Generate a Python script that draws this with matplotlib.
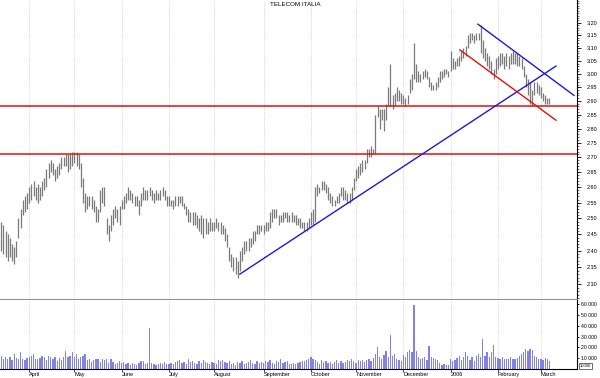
import numpy as np
import pandas as pd
import matplotlib
matplotlib.use('Agg')
import matplotlib.pyplot as plt
from matplotlib.ticker import FixedLocator, NullFormatter

plt.rcParams['font.family'] = ['Liberation Sans', 'DejaVu Sans']

# daily bars, 15 Mar 2005 .. 7 Mar 2006
dates = pd.bdate_range('2005-03-15', '2006-03-07')

highs = [
    # Mar 05
    2.49, 2.48, 2.46, 2.45, 2.44, 2.42, 2.41, 2.43, 2.50, 2.53, 2.56, 2.57, 2.58,
    # Apr
    2.60, 2.61, 2.62, 2.60, 2.61, 2.60, 2.62, 2.63, 2.66, 2.68, 2.69, 2.68, 2.66, 2.67, 2.68, 2.70, 2.70, 2.71, 2.71, 2.71, 2.72,
    # May
    2.72, 2.72, 2.71, 2.68, 2.63, 2.58, 2.57, 2.57, 2.57, 2.56, 2.54, 2.53, 2.59, 2.60, 2.60, 2.50, 2.48, 2.51, 2.53, 2.54, 2.53, 2.54,
    # Jun
    2.56, 2.57, 2.58, 2.60, 2.59, 2.58, 2.57, 2.57, 2.56, 2.58, 2.60, 2.59, 2.59, 2.60, 2.59, 2.58, 2.59, 2.58, 2.59, 2.60, 2.59, 2.57,
    # Jul
    2.57, 2.56, 2.56, 2.57, 2.57, 2.57, 2.57, 2.55, 2.54, 2.53, 2.52, 2.52, 2.52, 2.51, 2.50, 2.51, 2.50, 2.50, 2.49, 2.50, 2.49,
    # Aug
    2.49, 2.50, 2.49, 2.49, 2.48, 2.47, 2.45, 2.41, 2.39, 2.38, 2.38, 2.37, 2.40, 2.41, 2.43, 2.43, 2.44, 2.44, 2.46, 2.46, 2.48, 2.48, 2.48,
    # Sep
    2.48, 2.49, 2.49, 2.52, 2.53, 2.53, 2.53, 2.51, 2.51, 2.52, 2.52, 2.52, 2.51, 2.52, 2.51, 2.51, 2.50, 2.50, 2.49, 2.49, 2.49, 2.50,
    # Oct
    2.52, 2.53, 2.60, 2.61, 2.60, 2.62, 2.62, 2.61, 2.60, 2.58, 2.57, 2.56, 2.57, 2.58, 2.60, 2.60, 2.59, 2.58, 2.58, 2.60, 2.63,
    # Nov
    2.66, 2.67, 2.68, 2.69, 2.69, 2.73, 2.73, 2.74, 2.73, 2.85, 2.88, 2.87, 2.87, 2.87, 2.89, 2.95, 3.04, 2.92, 2.93, 2.95, 2.94, 2.93,
    # Dec
    2.92, 2.91, 2.92, 2.98, 3.00, 3.12, 3.04, 3.01, 3.00, 3.01, 3.02, 3.01, 2.99, 2.97, 2.96, 2.97, 2.99, 3.01, 3.01, 3.02, 3.02, 3.01,
    # Jan 06
    3.09, 3.06, 3.05, 3.06, 3.07, 3.09, 3.10, 3.11, 3.15, 3.16, 3.16, 3.15, 3.16, 3.16, 3.19, 3.13, 3.10, 3.08, 3.07, 3.05, 3.02, 3.06,
    # Feb
    3.07, 3.08, 3.08, 3.07, 3.08, 3.07, 3.08, 3.09, 3.08, 3.08, 3.07, 3.06, 3.03, 3.00, 2.98, 2.97, 2.94, 2.97, 2.97, 2.96,
    # Mar 06
    2.95, 2.93, 2.92, 2.91, 2.91,
]

lows = [
    2.40, 2.39, 2.38, 2.37, 2.38, 2.37, 2.36, 2.38, 2.44, 2.47, 2.51, 2.52, 2.53,
    2.55, 2.56, 2.57, 2.56, 2.55, 2.56, 2.57, 2.59, 2.60, 2.63, 2.65, 2.64, 2.62, 2.63, 2.64, 2.66, 2.67, 2.67, 2.65, 2.66, 2.67,
    2.68, 2.67, 2.66, 2.60, 2.55, 2.52, 2.53, 2.54, 2.53, 2.52, 2.49, 2.49, 2.52, 2.55, 2.54, 2.45, 2.43, 2.46, 2.48, 2.50, 2.49, 2.48,
    2.53, 2.53, 2.55, 2.56, 2.56, 2.55, 2.54, 2.54, 2.51, 2.54, 2.56, 2.56, 2.56, 2.57, 2.56, 2.55, 2.56, 2.56, 2.56, 2.57, 2.56, 2.54,
    2.54, 2.54, 2.53, 2.54, 2.54, 2.55, 2.54, 2.53, 2.51, 2.49, 2.49, 2.48, 2.48, 2.47, 2.46, 2.45, 2.44, 2.45, 2.45, 2.46, 2.46,
    2.46, 2.47, 2.46, 2.45, 2.45, 2.43, 2.41, 2.37, 2.35, 2.34, 2.33, 2.32, 2.34, 2.37, 2.39, 2.40, 2.40, 2.41, 2.42, 2.43, 2.45, 2.45, 2.46,
    2.45, 2.46, 2.46, 2.47, 2.49, 2.50, 2.50, 2.48, 2.49, 2.49, 2.50, 2.49, 2.49, 2.49, 2.49, 2.48, 2.48, 2.47, 2.47, 2.46, 2.46, 2.47,
    2.48, 2.48, 2.49, 2.57, 2.58, 2.59, 2.59, 2.58, 2.56, 2.55, 2.54, 2.54, 2.55, 2.55, 2.57, 2.56, 2.56, 2.55, 2.55, 2.56, 2.59,
    2.62, 2.63, 2.64, 2.65, 2.66, 2.68, 2.70, 2.70, 2.71, 2.71, 2.84, 2.80, 2.83, 2.79, 2.83, 2.88, 2.88, 2.87, 2.88, 2.90, 2.90, 2.89,
    2.89, 2.88, 2.89, 2.93, 2.94, 2.98, 2.97, 2.97, 2.97, 2.98, 2.99, 2.98, 2.95, 2.94, 2.94, 2.94, 2.95, 2.97, 2.98, 2.99, 3.00, 2.99,
    3.01, 3.02, 3.02, 3.03, 3.03, 3.05, 3.06, 3.07, 3.10, 3.12, 3.13, 3.12, 3.13, 3.13, 3.08, 3.06, 3.05, 3.03, 3.02, 3.00, 2.98, 3.00,
    3.02, 3.03, 3.04, 3.02, 3.03, 3.02, 3.04, 3.04, 3.04, 3.03, 3.03, 3.02, 2.99, 2.95, 2.92, 2.89, 2.88, 2.92, 2.93, 2.92,
    2.91, 2.90, 2.89, 2.89, 2.89,
]

# volume in thousands of shares
volume_k = [
    12, 9, 11, 9.5, 11.5, 8, 14, 10, 9.5, 16, 9.5, 8, 10,
    11, 12, 14, 9.5, 9, 10, 12, 11, 8, 12, 11.5, 9.5, 11, 7, 10, 8.5, 11, 17, 11, 12, 15.5,
    11.5, 14, 9, 11, 12, 14, 8, 9.5, 6.5, 8, 9.5, 9, 6.5, 9.5, 8, 9.5, 6, 9, 6.5, 5, 6, 7,
    6, 6.5, 5, 6, 4, 6, 5, 3.5, 6, 7, 7.5, 5, 6, 38, 5.5, 5, 4, 5, 6, 5, 6.5, 5,
    5, 6, 5, 6.5, 7, 8, 6, 6.5, 5, 9, 6.5, 7, 6, 5, 7, 6, 8, 6.5, 6, 5, 6.5,
    6, 5, 8, 7, 8, 6.5, 6, 7, 5, 6, 4, 6.5, 6, 7, 5, 6, 6.5, 8, 6, 5, 7, 6, 6.5,
    6, 7, 6.5, 8, 6, 5, 7, 6.5, 9, 6, 6.5, 7, 5, 5, 6, 5, 6, 6.5, 7, 7, 8, 9,
    11, 9.5, 8, 6.5, 5, 8, 6.5, 7, 5.5, 6.5, 5, 6.5, 8, 6, 7, 6, 6.5, 8, 7, 9, 7,
    6, 8, 7, 8, 6.5, 8, 9, 7, 10, 14, 20, 11, 9, 13, 17, 11, 32, 12.5, 14, 9, 8, 7,
    13, 11, 15.5, 17.5, 15.5, 59, 17, 11, 9.5, 10, 11, 8, 21.5, 11, 10, 9, 8, 6, 4, 5, 4, 3.5,
    9.5, 7, 8.5, 10, 12.5, 8, 11, 15.5, 12.5, 8, 11, 7, 12.5, 14, 11, 28, 12.5, 15.5, 11, 15.5, 22, 11,
    10, 9.5, 11, 9.5, 9, 9.5, 11, 9.5, 9, 10, 12.5, 14, 15.5, 18.5, 17, 19, 17.5, 12.5, 11, 9.5,
    9.5, 8, 10, 9, 7,
]

month_labels = ['April', 'May', 'June', 'July', 'August', 'September', 'October',
                'November', 'December', '2006', 'February', 'March']

price_ticks = [2.30, 2.35, 2.40, 2.45, 2.50, 2.55, 2.60, 2.65, 2.70, 2.75, 2.80,
               2.85, 2.90, 2.95, 3.00, 3.05, 3.10, 3.15, 3.20]
vol_ticks = [10000, 20000, 30000, 40000, 50000, 60000]

# support / resistance lines (bar index, price)
resistance = [2.88, 2.71]
blue_up = ([111.0, 258.0], [2.33, 3.03])
blue_down = ([221.7, 266.4], [3.195, 2.92])
red_down = ([213.3, 258.0], [3.093, 2.83])

assert len(highs) == len(lows) == len(volume_k) == len(dates)
x = np.arange(len(dates))
volume = np.array(volume_k) * 1000

# first trading day of each month after the start
month_start = [i for i in range(1, len(dates)) if dates[i].month != dates[i - 1].month]

fig = plt.figure(figsize=(6, 3.78), dpi=100)
ax = fig.add_axes([0, 1 - 300 / 378, 577 / 600, 300 / 378])
axv = fig.add_axes([0, 9 / 378, 577 / 600, 69 / 378], sharex=ax)

for a in (ax, axv):
    for m in month_start:
        a.axvline(m, color='#c8c8c8', ls=(0, (1, 1.5)), lw=0.6, zorder=0)

ax.vlines(x, lows, highs, color='#7a7a7a', lw=0.9)

for level in resistance:
    ax.axhline(level, color='#e01010', lw=1.1)
ax.plot(*blue_up, color='#1a1ad8', lw=1)
ax.plot(*blue_down, color='#1a1ad8', lw=1)
ax.plot(*red_down, color='#e01010', lw=1)

ax.set_yscale('log')
ax.set_ylim(2.255, 3.294)
ax.set_xlim(-0.6, 267.8)
ax.yaxis.tick_right()
ax.yaxis.set_major_locator(FixedLocator(price_ticks))
ax.yaxis.set_minor_locator(FixedLocator(np.arange(2.26, 3.29, 0.01)))
ax.yaxis.set_minor_formatter(NullFormatter())
ax.set_yticklabels(['%.2f' % t for t in price_ticks])
ax.tick_params(axis='y', which='major', length=3, width=0.6, labelsize=4, pad=4)
ax.tick_params(axis='y', which='minor', length=1.5, width=0.4)
ax.tick_params(axis='x', bottom=False, labelbottom=False)
for s in ('left', 'top'):
    ax.spines[s].set_visible(False)
ax.spines['bottom'].set_color('#909090')
ax.spines['bottom'].set_linewidth(1.5)
ax.spines['right'].set_linewidth(0.8)

axv.bar(x, volume, width=0.6, color='#8282e6', lw=0)
axv.set_ylim(0, 64000)
axv.yaxis.tick_right()
axv.set_yticks(vol_ticks)
axv.set_yticklabels(['%d %03d' % (v // 1000, v % 1000) for v in vol_ticks])
axv.tick_params(axis='y', length=1.5, width=0.6, labelsize=3.7, pad=1.5)
axv.set_xticks(month_start)
axv.set_xticklabels(month_labels, fontsize=4, ha='left')
axv.tick_params(axis='x', length=2, width=0.5, pad=0.5)
for s in ('left', 'top'):
    axv.spines[s].set_visible(False)
axv.spines['bottom'].set_linewidth(0.8)
axv.spines['right'].set_linewidth(0.8)

fig.text(295 / 600, 1 - 5 / 378, 'TELECOM ITALIA', fontsize=4.5, ha='center', va='center')
fig.text(580 / 600, 1 - 366 / 378, '10000', fontsize=3, ha='left', va='center',
         bbox=dict(facecolor='white', edgecolor='black', lw=0.4, pad=0.4))

fig.savefig('out.png', dpi=100)
